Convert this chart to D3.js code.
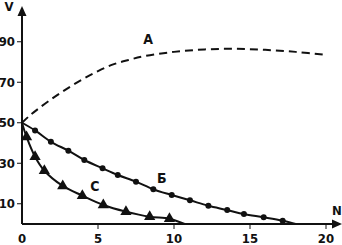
<!DOCTYPE html>
<html>
<head>
<meta charset="utf-8">
<script src="https://cdn.jsdelivr.net/npm/d3@7"></script>
<style>
  body { margin: 0; background: #fff; }
  svg text { font-family: "Liberation Sans Narrow", "DejaVu Sans Condensed", "Liberation Sans", sans-serif; font-weight: bold; fill: #111; }
</style>
</head>
<body>
<div id="chart"></div>
<script>
// curve A (dashed)
const nA = [0, 0.5, 1, 2, 3, 4, 5, 6, 7, 8, 10, 12, 14, 16, 18, 20];
const vA = [50, 53.5, 56.5, 62, 67, 71.5, 75.5, 78.8, 81, 82.8, 85, 86.2, 86.5, 86, 85, 83.5];
// curve Б (circles)
const nB = [0, 0.86, 1.9, 3.05, 4.1, 5.3, 6.3, 7.5, 8.64, 9.85, 11.05, 12.26, 13.5, 14.6, 15.9, 17.15, 18];
const vB = [50, 46.2, 40.6, 36.2, 31.6, 27.5, 24.2, 20.9, 17.1, 14.3, 11.7, 9.0, 6.9, 4.9, 3.3, 1.6, 0];
// curve C (triangles)
const nC = [0, 0.3, 0.86, 1.47, 2.68, 3.97, 5.35, 6.84, 8.4, 9.7, 10.7];
const vC = [50, 43, 33.2, 26.3, 18.8, 14, 9.4, 6.1, 3.6, 2.6, 0];
// ticks
const xTicks = [0, 5, 10, 15, 20];
const yTicks = [10, 30, 50, 70, 90];

const width = 342, height = 245;
const svg = d3.select("#chart").append("svg")
    .attr("width", width)
    .attr("height", height);

const x = d3.scaleLinear().domain([0, 20]).range([22, 326]);
const y = d3.scaleLinear().domain([0, 100]).range([224, 21.5]);

// axes
svg.append("line")
    .attr("x1", x(0)).attr("x2", 336)
    .attr("y1", y(0)).attr("y2", y(0))
    .attr("stroke", "#111").attr("stroke-width", 2);
svg.append("path")
    .attr("d", `M342,${y(0)} L332,${y(0) - 4.5} L332,${y(0) + 4.5} Z`)
    .attr("fill", "#111");
svg.append("line")
    .attr("x1", x(0)).attr("x2", x(0))
    .attr("y1", y(0)).attr("y2", 14)
    .attr("stroke", "#111").attr("stroke-width", 2);
svg.append("path")
    .attr("d", `M${x(0)},6 L${x(0) - 4.5},16 L${x(0) + 4.5},16 Z`)
    .attr("fill", "#111");

// y ticks
svg.selectAll(".ytick")
    .data(yTicks)
    .enter()
    .append("line")
    .attr("x1", x(0) - 5).attr("x2", x(0))
    .attr("y1", d => y(d)).attr("y2", d => y(d))
    .attr("stroke", "#111").attr("stroke-width", 1);
svg.selectAll(".ylabel")
    .data(yTicks)
    .enter()
    .append("text")
    .attr("x", 15)
    .attr("y", d => y(d) + 4.5)
    .attr("text-anchor", "end")
    .style("font-size", "13px")
    .text(d => d);

// x ticks
svg.selectAll(".xtick")
    .data(xTicks.slice(1))
    .enter()
    .append("line")
    .attr("x1", d => x(d)).attr("x2", d => x(d))
    .attr("y1", y(0)).attr("y2", y(0) + 5)
    .attr("stroke", "#111").attr("stroke-width", 1);
svg.selectAll(".xlabel")
    .data(xTicks)
    .enter()
    .append("text")
    .attr("x", d => x(d))
    .attr("y", 243)
    .attr("text-anchor", "middle")
    .style("font-size", "13px")
    .text(d => d);

// axis names
svg.append("text").attr("x", 9).attr("y", 11).attr("text-anchor", "middle")
    .style("font-size", "13px").text("V");
svg.append("text").attr("x", 337).attr("y", 215).attr("text-anchor", "middle")
    .style("font-size", "13px").text("N");

const line = d3.line()
    .x(d => x(d[0]))
    .y(d => y(d[1]))
    .curve(d3.curveCatmullRom);

const ptsA = d3.zip(nA, vA);
const ptsB = d3.zip(nB, vB);
const ptsC = d3.zip(nC, vC);

svg.append("path")
    .attr("d", line(ptsA))
    .attr("fill", "none")
    .attr("stroke", "#111")
    .attr("stroke-width", 2)
    .attr("stroke-dasharray", "8,5");

svg.append("path")
    .attr("d", line(ptsB))
    .attr("fill", "none")
    .attr("stroke", "#111")
    .attr("stroke-width", 2);

svg.append("path")
    .attr("d", line(ptsC))
    .attr("fill", "none")
    .attr("stroke", "#111")
    .attr("stroke-width", 2);

// markers
svg.selectAll(".dotB")
    .data(ptsB.slice(1, -1))
    .enter()
    .append("circle")
    .attr("cx", d => x(d[0]))
    .attr("cy", d => y(d[1]))
    .attr("r", 3)
    .attr("fill", "#111");

const tri = d3.symbol().type(d3.symbolTriangle).size(55);
svg.selectAll(".triC")
    .data(ptsC.slice(1, -1))
    .enter()
    .append("path")
    .attr("d", tri)
    .attr("transform", d => `translate(${x(d[0])},${y(d[1])})`)
    .attr("fill", "#111");

// curve labels
svg.append("text").attr("x", x(8.3)).attr("y", 44).attr("text-anchor", "middle")
    .style("font-size", "14px").text("А");
svg.append("text").attr("x", x(9.2)).attr("y", 183).attr("text-anchor", "middle")
    .style("font-size", "14px").text("Б");
svg.append("text").attr("x", x(4.8)).attr("y", 191).attr("text-anchor", "middle")
    .style("font-size", "14px").text("С");
</script>
</body>
</html>
